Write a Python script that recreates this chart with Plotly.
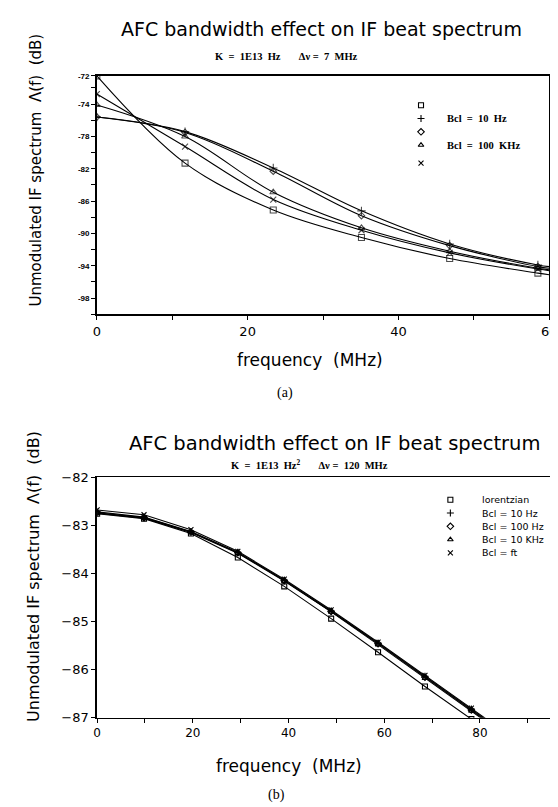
import plotly.graph_objects as go

# ---------------- Chart (a) data ----------------
freq_a = [0, 11.7, 23.4, 35.1, 46.8, 58.5, 60]
a_square = [-70.5, -81.3, -87.1, -90.5, -93.1, -94.9, -95.1]
a_plus = [-75.6, -77.4, -81.9, -87.2, -91.3, -93.9, -94.1]
a_diamond = [-75.6, -77.5, -82.3, -87.8, -91.5, -94.1, -94.3]
a_triangle = [-74.1, -78.0, -84.9, -89.3, -92.2, -94.3, -94.5]
a_cross = [-72.75, -79.25, -85.8, -89.6, -92.4, -94.4, -94.6]
a_marker_sizes = [6, 6, 6, 6, 6, 6, 0]
a_labels = ["", "Bcl  =  10  Hz", "", "Bcl  =  100  KHz", ""]
a_yticks = [-70.5, -74, -78, -82, -86, -90, -94, -98]
a_yticktext = ["-72", "-74", "-78", "-82", "-86", "-90", "-94", "-98"]
a_xticks = [0, 20, 40, 60]

# ---------------- Chart (b) data ----------------
freq_b = [0, 9.8, 19.6, 29.4, 39.1, 48.9, 58.7, 68.5, 78.2, 88.0]
b_lorentz = [-82.76, -82.86, -83.17, -83.67, -84.27, -84.94, -85.64, -86.35, -87.03, -87.72]
b_10hz = [-82.72, -82.83, -83.13, -83.56, -84.14, -84.78, -85.45, -86.14, -86.82, -87.52]
b_100hz = [-82.74, -82.84, -83.14, -83.57, -84.15, -84.79, -85.46, -86.16, -86.84, -87.54]
b_10khz = [-82.75, -82.85, -83.15, -83.58, -84.16, -84.80, -85.48, -86.18, -86.86, -87.56]
b_ft = [-82.68, -82.78, -83.09, -83.54, -84.12, -84.76, -85.43, -86.12, -86.80, -87.50]
b_labels = ["lorentzian", "Bcl = 10 Hz", "Bcl = 100 Hz", "Bcl = 10 KHz", "Bcl = ft"]
b_yticks = [-82, -83, -84, -85, -86, -87]
b_xticks = [0, 20, 40, 60, 80]

symbols = ["square-open", "cross-thin-open", "diamond-open", "triangle-up-open", "x-thin-open"]
a_sym_sizes = [6, 6, 5, 6, 6]

LIGHT = "DejaVu Sans"
SERIF = "Liberation Serif"

fig = go.Figure()

for ys, sym, ss in zip([a_square, a_plus, a_diamond, a_triangle, a_cross], symbols, a_sym_sizes):
    fig.add_trace(go.Scatter(
        x=freq_a, y=ys, mode="lines+markers", xaxis="x", yaxis="y",
        line=dict(color="black", width=1.1, shape="spline", smoothing=1.0),
        marker=dict(symbol=sym, size=[s * ss / 6 for s in a_marker_sizes], color="black",
                    line=dict(color="black", width=1.1)),
        showlegend=False, hoverinfo="skip"))

for ys, sym in zip([b_lorentz, b_10hz, b_100hz, b_10khz, b_ft], symbols):
    fig.add_trace(go.Scatter(
        x=freq_b, y=ys, mode="lines+markers", xaxis="x2", yaxis="y2",
        line=dict(color="black", width=1.1),
        marker=dict(symbol=sym, size=5, color="black", line=dict(color="black", width=1.1)),
        showlegend=False, hoverinfo="skip"))

# legend keys (pixel overlay axis)
a_leg_y = [92, 105.5, 119, 132.5, 151]
b_leg_y = [494, 507.5, 521, 534.5, 548]
fig.add_trace(go.Scatter(x=[418] * 5, y=a_leg_y, mode="markers", xaxis="x3", yaxis="y3",
                         marker=dict(symbol=symbols, size=5, color="black",
                                     line=dict(color="black", width=1.1)),
                         showlegend=False, hoverinfo="skip"))
fig.add_trace(go.Scatter(x=[448] * 5, y=b_leg_y, mode="markers", xaxis="x3", yaxis="y3",
                         marker=dict(symbol=symbols, size=5, color="black",
                                     line=dict(color="black", width=1.1)),
                         showlegend=False, hoverinfo="skip"))

W, H = 558, 807
def dx(a, b):
    return [a / W, b / W]
def dy(top, bottom):
    return [(H - bottom) / H, (H - top) / H]

axis_common = dict(showgrid=False, zeroline=False, showline=True, linecolor="black",
                   ticks="outside", tickcolor="black")

fig.update_layout(
    width=W, height=H, margin=dict(l=0, r=0, t=0, b=0),
    paper_bgcolor="white", plot_bgcolor="rgba(0,0,0,0)",
    xaxis=dict(domain=dx(86.7, 549), range=[0, 60], anchor="y", mirror=True,
               linewidth=1.5, tickvals=a_xticks, ticklen=4, tickwidth=1,
               minor=dict(dtick=10, ticks="outside", ticklen=4, tickcolor="black"),
               tickfont=dict(family=LIGHT, size=13, color="black"),
               **axis_common),
    yaxis=dict(domain=dy(62, 305), range=[-100, -70.5], anchor="x", mirror=True,
               linewidth=1.5, tickvals=a_yticks, ticktext=a_yticktext, ticklen=4,
               minor=dict(dtick=2, tick0=-100, ticks="outside", ticklen=4, tickcolor="black"),
               tickfont=dict(family="Liberation Sans", size=8, color="black", weight="bold"),
               **axis_common),
    xaxis2=dict(domain=dx(87, 558), range=[0, 96.3], anchor="y2", mirror=True,
                linewidth=1.3, tickvals=b_xticks, ticklen=4,
                minor=dict(dtick=10, ticks="outside", ticklen=4, tickcolor="black"),
                tickfont=dict(family=LIGHT, size=12, color="black"),
                **axis_common),
    yaxis2=dict(domain=dy(471, 716), range=[-87, -82], anchor="x2",
                linewidth=1.5, tickvals=b_yticks, ticklen=4,
                tickfont=dict(family=LIGHT, size=13, color="black"),
                **axis_common),
    xaxis3=dict(domain=[0, 1], range=[0, W], anchor="y3", visible=False, fixedrange=True),
    yaxis3=dict(domain=[0, 1], range=[H, 0], anchor="x3", visible=False, fixedrange=True),
)

ann = []
def text(x, y, s, size, family=LIGHT, xanchor="center", angle=0, bold=False, color="black"):
    f = dict(family=family, size=size, color=color)
    if bold:
        f["weight"] = "bold"
    ann.append(dict(x=x, y=y, xref="x3", yref="y3", text=s, showarrow=False,
                    xanchor=xanchor, yanchor="middle", textangle=angle, font=f))

# chart (a) texts
text(316, 14, "AFC bandwidth effect on IF beat spectrum", 19)
text(281, 42, "K  =  1E13  Hz&nbsp;&nbsp;&nbsp;&nbsp;&nbsp;&nbsp;&nbsp;Δν =  7  MHz", 10.5, SERIF, bold=True)
text(25, 158, "Unmodulated IF spectrum  Λ(f)  (dB)", 15, angle=-90)
text(305, 352, "frequency  (MHz)", 17)
text(279, 385, "(a)", 14, SERIF)
for lab, yy in zip(a_labels, a_leg_y):
    if lab:
        text(443, yy, lab, 10.5, SERIF, xanchor="left", bold=True)

# chart (b) texts
text(330, 437, "AFC bandwidth effect on IF beat spectrum", 19.5)
text(304, 458, "K  =  1E13  Hz<sup>2</sup>&nbsp;&nbsp;&nbsp;&nbsp;&nbsp;&nbsp;&nbsp;Δν =  120  MHz", 10.5, SERIF, bold=True)
text(22, 572, "Unmodulated IF spectrum  Λ(f)  (dB)", 16, angle=-90)
text(283, 765, "frequency  (MHz)", 17)
text(270, 795, "(b)", 14, SERIF)
for lab, yy in zip(b_labels, b_leg_y):
    text(478, yy, lab, 9.5, xanchor="left")

fig.update_layout(annotations=ann)
fig.write_html("out.html")
